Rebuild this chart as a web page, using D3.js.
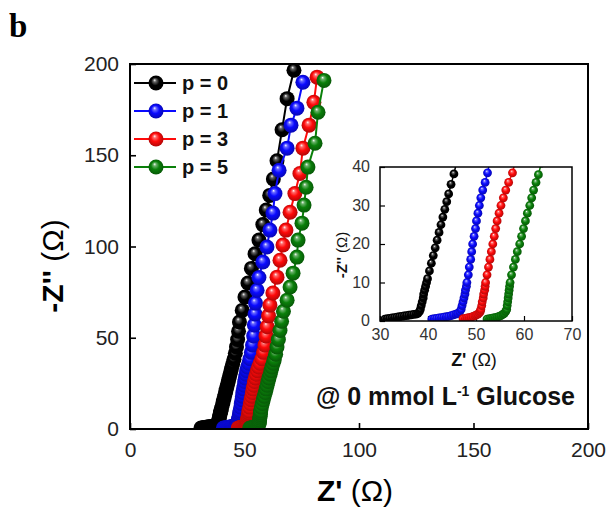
<!DOCTYPE html>
<html>
<head>
<meta charset="utf-8">
<script src="https://cdn.jsdelivr.net/npm/d3@7"></script>
<style>
  body { margin: 0; background: #fff; }
  svg { display: block; font-family: Arial, "Liberation Sans", sans-serif; }
</style>
</head>
<body>
<script>
  /* DATA: [Z', -Z''] in ohm */
  var labels = ["p = 0", "p = 1", "p = 3", "p = 5"];
  var colors = ["#000000", "#0a0aff", "#ff0a0a", "#0a800a"];

  var p0 = [[31,0.5],[31.5,0.6],[32,0.7],[32.5,0.8],[33,0.9],[33.5,1.0],[34,1.1],[34.5,1.2],
    [35,1.3],[35.5,1.4],[36,1.5],[36.5,1.6],[37,1.7],[37.5,1.8],[37.9,2.0],[38.2,2.4],
    [38.4,3],[38.6,4],[38.8,5],[39.0,6],[39.1,7],[39.3,8],[39.5,9],[39.7,10],[39.9,11],
    [40.3,13],[40.7,15],[41.1,17],[41.5,19],
    [41.9,21],[42.3,23],[42.7,25],[43.1,27],[43.5,29],[43.9,31],[44.3,33],[44.8,35.5],
    [45.4,38.2],[46.0,41.5],[46.5,45],[47.0,49],[47.4,53.5],[47.8,58.6],[49.0,65],
    [50.2,72.3],[51.5,80],[53.0,88],[54.6,96],[56.3,103.5],[58.0,112],[59.5,120],
    [61.0,128],[62.6,137],[64.2,147],[66.4,164],[68.6,181],[71.6,196.6]];

  var p1 = [[40.8,0.5],[41.3,0.6],[41.8,0.7],[42.3,0.8],[42.8,0.9],[43.3,1.0],[43.8,1.1],
    [44.3,1.2],[44.8,1.4],[45.3,1.6],[45.8,1.8],[46.2,2.0],[46.6,2.4],[46.9,3],
    [47.1,4],[47.3,5],[47.5,6],[47.7,7],[47.8,8],[48.0,9],[48.1,10],[48.4,12],[48.6,14],[48.9,16],[49.1,18],
    [49.3,20],[49.6,22],[49.9,24],[50.1,26],[50.4,28],[50.7,30],[51.0,32],[51.4,34],
    [51.9,36],[52.4,38.5],[53.0,42],[53.5,46],[54.0,51],[54.3,57],[54.6,63],[54.8,69],
    [55.5,76],[56.3,83],[58.0,91.5],[59.8,99.7],[61.1,109],[62.4,118.3],[63.3,129],
    [65.1,141.8],[68.6,153.9],[70.3,166.5],[72.9,175.8],[75.5,190]];

  var p3 = [[47.3,0.6],[47.8,0.7],[48.2,0.8],[48.6,0.9],[49,1.0],[49.4,1.2],[49.8,1.4],
    [50.1,1.6],[50.4,1.8],[50.7,2.1],[50.9,2.5],[51.0,3],
    [51.2,4],[51.3,5],[51.5,6],[51.6,7],[51.8,8],[51.9,9],[52.0,10],[52.3,12],[52.6,14],[52.9,16],[53.2,18],
    [53.5,20],[53.8,22],[54.1,24],[54.4,26],[54.8,28],[55.2,30],[55.7,32],[56.2,34],
    [56.8,36],[57.6,38.5],[58.3,42],[58.9,46],[59.4,51],[59.9,56],[60.5,62],[61.1,67.9],
    [62.4,74.5],[64.2,83.2],[65.5,92.5],[66.8,100.8],[68.1,109],[69.9,118.8],[72.0,129],
    [74.2,140],[75.5,153.9],[78.2,166.5],[80.3,179],[81.7,192.8]];

  var p5 = [[52.3,0.5],[52.8,0.6],[53.2,0.7],[53.6,0.8],[54,0.9],[54.4,1.0],[54.8,1.2],
    [55.2,1.4],[55.6,1.7],[55.9,2.0],[56.2,2.5],[56.4,3],
    [56.5,4],[56.6,5],[56.7,6],[56.8,7],[56.9,8],[57.0,9],[57.1,10],[57.4,12],[57.8,14],[58.2,16],[58.6,18],
    [59.1,20],[59.5,22],[59.9,24],[60.3,26],[60.7,28],[61.2,30],[61.6,32],[62.0,34],
    [62.5,36],[63.0,38],[63.6,41],[64.2,45],[64.8,49],[65.5,54],[66.2,59],[67.0,64.5],
    [68.6,70.6],[69.9,77.8],[71.2,85.4],[72.9,94.2],[73.4,103.5],[75.1,112.8],[76.0,122.7],
    [76.9,132.5],[77.7,143.5],[80.8,156.6],[82.1,173.6],[84.7,191]];

  var mainTicks = [0, 50, 100, 150, 200];
  var insetXTicks = [30, 40, 50, 60, 70];
  var insetYTicks = [0, 10, 20, 30, 40];

  var series = [p0, p1, p3, p5];

  /* DIMENSIONS */
  var width = 609, height = 508;
  var main = { left: 130, right: 588, top: 64, bottom: 429 };
  var inset = { left: 380, right: 572, top: 167, bottom: 321 };

  var svg = d3.select("body").append("svg")
    .attr("width", width)
    .attr("height", height);

  // ball gradients
  var defs = svg.append("defs");
  colors.forEach(function(c, i) {
    var g = defs.append("radialGradient")
      .attr("id", "ball" + i)
      .attr("cx", 0.5).attr("cy", 0.5).attr("r", 0.55)
      .attr("fx", 0.4).attr("fy", 0.3);
    var base = d3.color(c);
    g.append("stop").attr("offset", 0).attr("stop-color", "#ffffff");
    g.append("stop").attr("offset", 0.18).attr("stop-color", d3.interpolateRgb("#ffffff", c)(0.6));
    g.append("stop").attr("offset", 0.5).attr("stop-color", c);
    g.append("stop").attr("offset", 1).attr("stop-color", i === 0 ? "#000" : base.darker(1.2).formatHex());
  });

  defs.append("clipPath").attr("id", "mainClip")
    .append("rect")
    .attr("x", main.left).attr("y", main.top)
    .attr("width", main.right - main.left).attr("height", main.bottom - main.top);
  defs.append("clipPath").attr("id", "insetClip")
    .append("rect")
    .attr("x", inset.left).attr("y", inset.top)
    .attr("width", inset.right - inset.left).attr("height", inset.bottom - inset.top);

  svg.append("text")
    .attr("x", 9).attr("y", 37)
    .style("font-family", "'Liberation Serif', 'Times New Roman', serif")
    .style("font-weight", "bold")
    .style("font-size", "33px")
    .text("b");

  /* MAIN PLOT */
  var xScale = d3.scaleLinear().domain([0, 200]).range([main.left, main.right]);
  var yScale = d3.scaleLinear().domain([0, 200]).range([main.bottom, main.top]);

  var xAxis = svg.append("g")
    .attr("transform", `translate(0, ${main.bottom})`)
    .call(d3.axisBottom(xScale).tickValues(mainTicks).tickSizeInner(-6).tickSizeOuter(0).tickPadding(12));
  var yAxis = svg.append("g")
    .attr("transform", `translate(${main.left}, 0)`)
    .call(d3.axisLeft(yScale).tickValues(mainTicks).tickSizeInner(-6).tickSizeOuter(0).tickPadding(11));
  [xAxis, yAxis].forEach(function(a) {
    a.select(".domain").remove();
    a.selectAll("line").attr("stroke", "#000").attr("stroke-width", 1.6);
    a.selectAll("text").style("font-size", "21px").attr("fill", "#222")
      .style("font-family", "Arial, 'Liberation Sans', sans-serif");
  });
  xAxis.selectAll("text").attr("dy", "0.75em");

  var plotG = svg.append("g").attr("clip-path", "url(#mainClip)");

  var drawLine = d3.line()
    .x(function(d) { return xScale(d[0]); })
    .y(function(d) { return yScale(d[1]); });

  series.forEach(function(s, i) {
    plotG.append("path")
      .datum(s)
      .attr("fill", "none")
      .attr("stroke", colors[i])
      .attr("stroke-width", 2)
      .attr("d", drawLine);
    plotG.selectAll("circle.s" + i)
      .data(s)
      .enter()
      .append("circle")
      .attr("class", "s" + i)
      .attr("cx", function(d) { return xScale(d[0]); })
      .attr("cy", function(d) { return yScale(d[1]); })
      .attr("r", 7.5)
      .attr("fill", "url(#ball" + i + ")");
  });

  svg.append("rect")
    .attr("x", main.left).attr("y", main.top)
    .attr("width", main.right - main.left).attr("height", main.bottom - main.top)
    .attr("fill", "none").attr("stroke", "#000").attr("stroke-width", 2);

  // axis titles
  var xTitle = svg.append("text")
    .attr("x", 355).attr("y", 501)
    .attr("text-anchor", "middle")
    .style("font-weight", "bold")
    .style("font-size", "30px");
  xTitle.append("tspan").text("Z' ");
  xTitle.append("tspan").style("font-weight", "normal").text("(Ω)");

  var yTitle = svg.append("text")
    .attr("transform", "translate(63, 266) rotate(-90)")
    .attr("text-anchor", "middle")
    .style("font-weight", "bold")
    .style("font-size", "30px");
  yTitle.append("tspan").text("-Z'' ");
  yTitle.append("tspan").style("font-weight", "normal").text("(Ω)");

  // legend
  var legendRows = [83, 111, 139, 167];
  labels.forEach(function(l, i) {
    var g = svg.append("g").attr("transform", `translate(0, ${legendRows[i]})`);
    g.append("line")
      .attr("x1", 134).attr("x2", 176)
      .attr("stroke", colors[i]).attr("stroke-width", 2.2);
    g.append("circle")
      .attr("cx", 156).attr("cy", 0).attr("r", 7.5)
      .attr("fill", "url(#ball" + i + ")");
    g.append("text")
      .attr("x", 182).attr("y", 7)
      .style("font-weight", "bold")
      .style("font-size", "20px")
      .attr("fill", "#111")
      .text(l);
  });

  // annotation
  var note = svg.append("text")
    .attr("x", 575).attr("y", 405)
    .attr("text-anchor", "end")
    .style("font-weight", "bold")
    .style("font-size", "25px")
    .attr("fill", "#111");
  note.append("tspan").text("@ 0 mmol L");
  note.append("tspan").attr("dy", -9).style("font-size", "14px").text("-1");
  note.append("tspan").attr("dy", 9).text(" Glucose");

  /* INSET */
  var ix = d3.scaleLinear().domain([30, 70]).range([inset.left, inset.right]);
  var iy = d3.scaleLinear().domain([0, 40]).range([inset.bottom, inset.top]);

  svg.append("rect")
    .attr("x", inset.left).attr("y", inset.top)
    .attr("width", inset.right - inset.left).attr("height", inset.bottom - inset.top)
    .attr("fill", "#fff");

  var ixAxis = svg.append("g")
    .attr("transform", `translate(0, ${inset.bottom})`)
    .call(d3.axisBottom(ix).tickValues(insetXTicks).tickSizeInner(-5).tickSizeOuter(0).tickPadding(7));
  var iyAxis = svg.append("g")
    .attr("transform", `translate(${inset.left}, 0)`)
    .call(d3.axisLeft(iy).tickValues(insetYTicks).tickSizeInner(-5).tickSizeOuter(0).tickPadding(10));
  [ixAxis, iyAxis].forEach(function(a) {
    a.select(".domain").remove();
    a.selectAll("line").attr("stroke", "#000").attr("stroke-width", 1.2);
    a.selectAll("text").style("font-size", "16px").attr("fill", "#333")
      .style("font-family", "Arial, 'Liberation Sans', sans-serif");
  });
  ixAxis.selectAll("text").attr("dy", "0.75em");
  iyAxis.selectAll("text").attr("dy", "0.3em");

  var insetG = svg.append("g").attr("clip-path", "url(#insetClip)");
  var insetLine = d3.line()
    .x(function(d) { return ix(d[0]); })
    .y(function(d) { return iy(d[1]); });

  series.forEach(function(s, i) {
    insetG.append("path")
      .datum(s)
      .attr("fill", "none")
      .attr("stroke", colors[i])
      .attr("stroke-width", 1.5)
      .attr("d", insetLine);
    insetG.selectAll("circle.s" + i)
      .data(s)
      .enter()
      .append("circle")
      .attr("class", "s" + i)
      .attr("cx", function(d) { return ix(d[0]); })
      .attr("cy", function(d) { return iy(d[1]); })
      .attr("r", 4.4)
      .attr("fill", "url(#ball" + i + ")");
  });

  svg.append("rect")
    .attr("x", inset.left).attr("y", inset.top)
    .attr("width", inset.right - inset.left).attr("height", inset.bottom - inset.top)
    .attr("fill", "none").attr("stroke", "#000").attr("stroke-width", 1.5);

  var ixTitle = svg.append("text")
    .attr("x", 474).attr("y", 366)
    .attr("text-anchor", "middle")
    .style("font-weight", "bold")
    .style("font-size", "18px")
    .attr("fill", "#111");
  ixTitle.append("tspan").text("Z' ");
  ixTitle.append("tspan").style("font-weight", "normal").text("(Ω)");

  var iyTitle = svg.append("text")
    .attr("transform", "translate(347, 255) rotate(-90)")
    .attr("text-anchor", "middle")
    .style("font-weight", "bold")
    .style("font-size", "15px")
    .attr("fill", "#111");
  iyTitle.append("tspan").text("-Z'' ");
  iyTitle.append("tspan").style("font-weight", "normal").text("(Ω)");
</script>
</body>
</html>
